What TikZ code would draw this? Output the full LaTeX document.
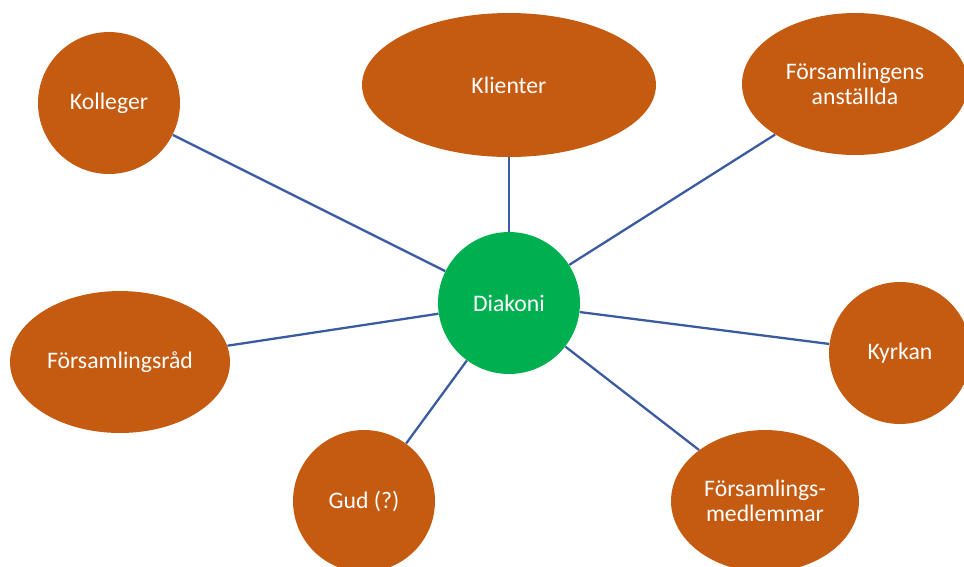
\documentclass[tikz,border=0pt]{standalone}
\usepackage{fontspec}
\setmainfont{Carlito}
\usepackage{xcolor}
\usetikzlibrary{shapes.geometric}
\definecolor{rostorange}{HTML}{C55A11}
\definecolor{diakgruen}{HTML}{00B050}
\definecolor{linieblau}{HTML}{3A5BA0}

\begin{document}
\begin{tikzpicture}[x=0.02cm, y=-0.02cm,
    blase/.style={ellipse, fill=rostorange, text=white, inner sep=0pt, align=center,
                  font=\fontsize{13.5}{14.5}\selectfont},
    mitte/.style={circle, fill=diakgruen, text=white, inner sep=0pt, minimum size=2.84cm,
                  font=\fontsize{13.5}{14.5}\selectfont},
    band/.style={linieblau, line width=1.3pt}]
            \clip (0,0) rectangle (964,566);                          %Rahmen
            \node [mitte] (diakoni) at (509,303) {Diakoni};           %Mitte
            \node [blase, minimum width=2.84cm, minimum height=2.84cm] (kolleger) at (109,103) {Kolleger};
            \node [blase, minimum width=5.88cm, minimum height=2.88cm] (klienter) at (509,85) {Klienter};
            \node [blase, minimum width=4.52cm, minimum height=2.84cm] (anstallda) at (855,84) {Församlingens\\anställda};
            \node [blase, minimum width=4.40cm, minimum height=2.84cm] (rad) at (120,362) {Församlingsråd};
            \node [blase, minimum width=2.84cm, minimum height=2.84cm] (kyrkan) at (900,353) {Kyrkan};
            \node [blase, minimum width=2.84cm, minimum height=2.84cm] (gud) at (364,501) {Gud (?)};
            \node [blase, minimum width=3.76cm, minimum height=2.84cm] (medlemmar) at (765,501) {Församlings-\\medlemmar};
            \foreach \n in {kolleger, klienter, anstallda, rad, kyrkan, gud, medlemmar}
                \draw [band] (diakoni) -- (\n);                       %Verbindungen
        \end{tikzpicture}
\end{document}
